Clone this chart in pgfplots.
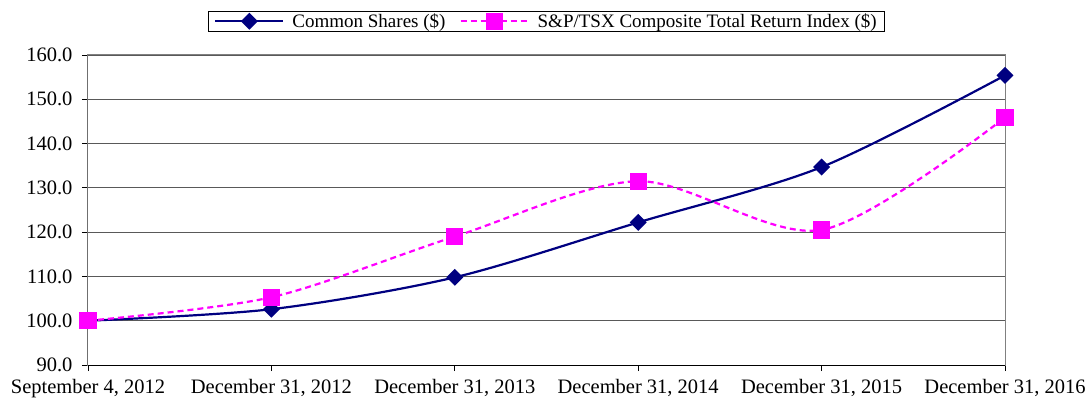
\documentclass[border=0pt]{standalone}
\usepackage{fontspec}
\setmainfont{Liberation Serif}
\usepackage{pgfplots}
\pgfplotsset{compat=1.18}
\definecolor{navyline}{RGB}{0,0,128}
\definecolor{magline}{RGB}{255,0,255}
\begin{document}
\begin{tikzpicture}
\useasboundingbox (-88pt,-37pt) rectangle (1004pt,365pt);
\begin{axis}[
  at={(0,0)}, anchor=south west,
  scale only axis, width=917pt, height=310pt,
  xmin=0, xmax=5, ymin=90, ymax=160,
  xtick={0,1,2,3,4,5},
  xticklabels={{September 4, 2012}, {December 31, 2012}, {December 31, 2013}, {December 31, 2014}, {December 31, 2015}, {December 31, 2016}},
  ytick={90,100,...,160},
  xtick pos=bottom, ytick pos=left,
  ymajorgrids, major grid style={black!65, line width=0.9pt},
  axis line style={black!50, line width=1pt},
  tick style={black, line width=0.8pt}, tick align=outside, major tick length=6pt,
  yticklabel style={xshift=-6pt, /pgf/number format/.cd, fixed, fixed zerofill, precision=1},
  /pgf/number format/assume math mode=true,
  tick label style={font=\fontsize{20.5}{22}\selectfont},
  xticklabel style={yshift=-5pt},
  legend columns=2,
  legend style={at={(0.5,1.077)}, anchor=south, draw=black, line width=0.6pt,
    font=\fontsize{19}{21}\selectfont, inner xsep=6pt, inner ysep=0pt,
    /tikz/every odd column/.append style={column sep=6pt},
    /tikz/every even column/.append style={column sep=12pt}},
  legend image code/.code={\draw[#1, mark=none] (0pt,0pt) -- (68pt,0pt);
    \draw[#1, only marks] plot coordinates {(34pt,0pt)};},
]
\draw[black, line width=1pt] (rel axis cs:0,0) -- (rel axis cs:0,1);
\draw[black, line width=1pt] (rel axis cs:0,0) -- (rel axis cs:1,0);
\addplot[navyline, line width=2.2pt, smooth, mark=square*, mark size=4.9pt,
  mark options={rotate=45, solid, fill=navyline}]
  coordinates {(0,100) (1,102.6) (2,109.8) (3,122.2) (4,134.7) (5,155.4)};
\addlegendentry{Common Shares (\$)}
\addplot[magline, line width=2.2pt, smooth, dash pattern=on 6pt off 4pt, mark=square*, mark size=7.5pt,
  mark options={solid, fill=magline}]
  coordinates {(0,100) (1,105.3) (2,119.0) (3,131.5) (4,120.5) (5,145.9)};
\addlegendentry{S\&P/TSX Composite Total Return Index (\$)}
\end{axis}
\end{tikzpicture}
\end{document}
